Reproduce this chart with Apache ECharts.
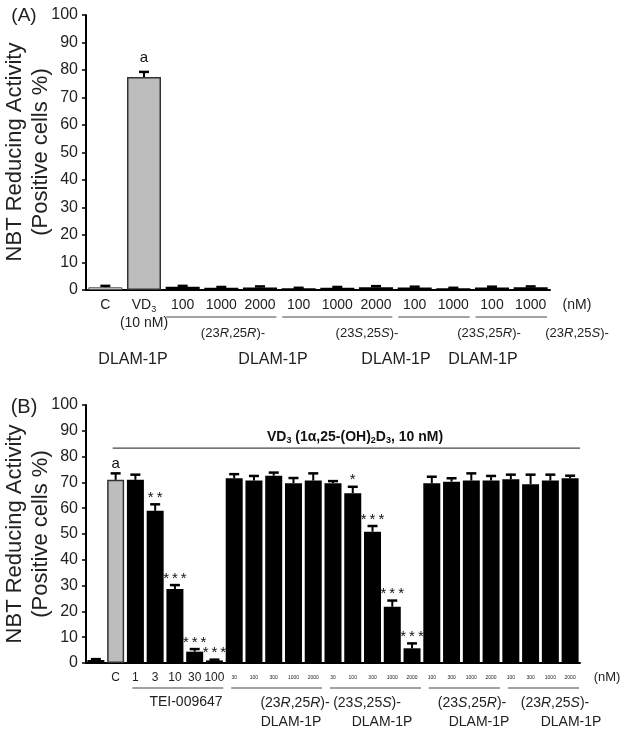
<!DOCTYPE html>
<html><head><meta charset="utf-8">
<script src="https://cdn.jsdelivr.net/npm/echarts@6/dist/echarts.min.js"></script>
<style>html,body{margin:0;padding:0;background:#fff}#c{width:628px;height:736px}</style>
</head><body><div id="c"></div>
<script>
// ---------- Panel A data ----------
const catsA = ['C', 'VD3', '100', '1000', '2000', '100', '1000', '2000', '100', '1000', '100', '1000'];
const valsA = [1.0, 77.5, 1.2, 0.8, 0.9, 0.6, 0.8, 1.0, 0.9, 0.6, 0.9, 1.0];
const errA  = [0.5, 1.8, 0.3, 0.3, 0.4, 0.2, 0.3, 0.4, 0.3, 0.2, 0.3, 0.3];
const sigA  = ['', 'a', '', '', '', '', '', '', '', '', '', ''];
// ---------- Panel B data ----------
const catsB = ['', 'C', '1', '3', '10', '30', '100',
  '30', '100', '300', '1000', '2000',
  '30', '100', '300', '1000', '2000',
  '100', '300', '1000', '2000',
  '100', '300', '1000', '2000'];
const valsB = [1.2, 71.0, 71.0, 59.0, 28.7, 4.4, 1.0,
  71.6, 70.7, 72.6, 69.7, 70.7,
  69.7, 65.8, 50.9, 21.8, 5.7,
  69.7, 70.3, 70.7, 70.7,
  71.2, 69.3, 70.7, 71.6];
const errB  = [0.3, 2.5, 2.0, 2.5, 1.5, 1.0, 0.3,
  1.6, 1.8, 1.2, 2.0, 2.8,
  0.8, 2.5, 2.2, 2.4, 1.9,
  2.5, 1.3, 2.8, 1.8,
  1.8, 3.7, 2.3, 1.0];
const sigB  = ['', 'a', '', '**', '***', '***', '***',
  '', '', '', '', '',
  '', '*', '***', '***', '***',
  '', '', '', '',
  '', '', '', ''];
const yTicks = [0, 100, 10];

const FONT = '"Liberation Sans", Arial, Helvetica, sans-serif';
const chart = echarts.init(document.getElementById('c'));

function barStyleA(i) {
  if (i === 0) return { color: '#d9d9d9', borderColor: '#555', borderWidth: 1 };
  if (i === 1) return { color: '#bdbdbd', borderColor: '#333', borderWidth: 1.5 };
  return { color: '#000' };
}
function barStyleB(i) {
  if (i === 0) return { color: '#fff', borderColor: '#000', borderWidth: 1.5 };
  if (i === 1) return { color: '#bdbdbd', borderColor: '#333', borderWidth: 1.5 };
  return { color: '#000' };
}

function errSeries(ax, vals, errs, sigs, sigOff) {
  return {
    type: 'custom', xAxisIndex: ax, yAxisIndex: ax, z: 5,
    data: vals.map((v, i) => [i, v, errs[i]]),
    renderItem: function (params, api) {
      const i = api.value(0), v = api.value(1), e = api.value(2);
      const b = api.coord([i, v]);
      const t = api.coord([i, v + e]);
      const cap = 5;
      const ch = [
        { type: 'line', shape: { x1: b[0], y1: b[1], x2: t[0], y2: t[1] }, style: { stroke: '#000', lineWidth: 2 } },
        { type: 'line', shape: { x1: t[0] - cap, y1: t[1], x2: t[0] + cap, y2: t[1] }, style: { stroke: '#000', lineWidth: 2.5 } }
      ];
      const s = sigs[params.dataIndex];
      if (s) {
        const isA = s === 'a';
        ch.push({ type: 'text', style: {
          text: isA ? s : s.split('').join('\u2009'), x: t[0], y: t[1] - (isA ? sigOff : sigOff - 3),
          align: 'center', verticalAlign: 'bottom', textAlign: 'center', textVerticalAlign: 'bottom',
          font: (isA ? '15px ' : '15px ') + FONT, fill: '#111'
        } });
      }
      return { type: 'group', children: ch };
    }
  };
}

const yAxisCommon = {
  type: 'value', min: yTicks[0], max: yTicks[1], interval: yTicks[2],
  axisLine: { show: true, lineStyle: { color: '#000', width: 2 } },
  axisTick: { show: true, length: 4, lineStyle: { color: '#000', width: 1.5 } },
  axisLabel: { fontSize: 16, color: '#222', fontFamily: FONT, margin: 8 },
  splitLine: { show: false }
};

const option = {
  animation: false,
  backgroundColor: '#fff',
  textStyle: { fontFamily: FONT },
  grid: [
    { left: 86, right: 78, top: 15, bottom: 446 },
    { left: 86, right: 48, top: 405, bottom: 73 }
  ],
  xAxis: [
    { type: 'category', gridIndex: 0, data: catsA,
      axisLine: { lineStyle: { color: '#000', width: 2 } }, axisTick: { show: false },
      axisLabel: { interval: 0, margin: 6, color: '#222',
        formatter: (v, i) => i === 1 ? '{n|VD}{sub|3}\n{n|(10 nM)}' : '{n|' + v + '}',
        rich: { n: { fontSize: 14, lineHeight: 18, fontFamily: FONT, color: '#222' },
                sub: { fontSize: 9, lineHeight: 18, verticalAlign: 'bottom', fontFamily: FONT, color: '#222' } } } },
    { type: 'category', gridIndex: 1, data: catsB,
      axisLine: { lineStyle: { color: '#000', width: 2 } }, axisTick: { show: false },
      axisLabel: { interval: 0, margin: 8, color: '#222',
        formatter: (v, i) => i >= 7 ? '{s|' + v + '}' : '{n|' + v + '}',
        rich: { n: { fontSize: 12, lineHeight: 14, fontFamily: FONT, color: '#222' },
                s: { fontSize: 5, lineHeight: 14, fontFamily: FONT, color: '#222' } } } }
  ],
  yAxis: [
    Object.assign({ gridIndex: 0 }, yAxisCommon),
    Object.assign({ gridIndex: 1 }, yAxisCommon)
  ],
  series: [
    { type: 'bar', xAxisIndex: 0, yAxisIndex: 0, barWidth: '88%',
      data: valsA.map((v, i) => ({ value: v, itemStyle: barStyleA(i) })) },
    errSeries(0, valsA, errA, sigA, 7),
    { type: 'bar', xAxisIndex: 1, yAxisIndex: 1, barWidth: '86%',
      data: valsB.map((v, i) => ({ value: v, itemStyle: barStyleB(i) })) },
    errSeries(1, valsB, errB, sigB, 2)
  ]
};
chart.setOption(option);

// ---------- annotations ----------
const px = (ax, c) => chart.convertToPixel({ xAxisIndex: ax }, c);
const py = (ax, v) => chart.convertToPixel({ yAxisIndex: ax }, v);
const bandA = px(0, 1) - px(0, 0);
const bandB = px(1, 1) - px(1, 0);
const baseA = py(0, 0), baseB = py(1, 0);
const g = [];
function txt(x, y, text, size, opts) {
  g.push(Object.assign({ type: 'text', x: x, y: y, style: Object.assign({
    text: text, fontSize: size, fontFamily: FONT, fill: '#222',
    align: 'center', verticalAlign: 'middle', textAlign: 'center', textVerticalAlign: 'middle'
  }, (opts && opts.style) || {}) }, (opts && opts.el) || {}));
}
function hline(x1, x2, y, w) {
  g.push({ type: 'line', shape: { x1: x1, y1: y, x2: x2, y2: y }, style: { stroke: '#444', lineWidth: w || 1 } });
}
const italRich = (size) => ({ i: { fontStyle: 'italic', fontSize: size, fontFamily: FONT, fill: '#222' } });

// Panel A
txt(24, 16, '(A)', 19);
txt(15, 152, 'NBT Reducing Activity', 22, { el: { rotation: Math.PI / 2 } });
txt(41, 152, '(Positive cells %)', 22, { el: { rotation: Math.PI / 2 } });
[[2, 4], [5, 7], [8, 9], [10, 11]].forEach(([a, b]) => hline(px(0, a) - bandA / 2 + 3, px(0, b) + bandA / 2 - 3, baseA + 27));
txt(577, baseA + 15, '(nM)', 14);
const grpA = [['(23{i|R},25{i|R})-', 233], ['(23{i|S},25{i|S})-', 367], ['(23{i|S},25{i|R})-', 489], ['(23{i|R},25{i|S})-', 577]];
grpA.forEach(([t, x]) => txt(x, baseA + 43, t, 13, { style: { rich: italRich(13) } }));
[133, 273, 396, 483].forEach(x => txt(x, baseA + 70, 'DLAM-1P', 16));

// Panel B
txt(24, 407, '(B)', 20);
txt(15, 534, 'NBT Reducing Activity', 22, { el: { rotation: Math.PI / 2 } });
txt(41, 534, '(Positive cells %)', 22, { el: { rotation: Math.PI / 2 } });
const vdY = py(1, 83.3);
hline(px(1, 1) - 3, px(1, catsB.length - 1) + bandB / 2, vdY, 1.2);
txt(355, vdY - 11, '{b|VD}{s|3}{b| (1α,25-(OH)}{s|2}{b|D}{s|3}{b|, 10 nM)}', 14, { style: { rich: {
  b: { fontSize: 14, fontWeight: 'bold', fontFamily: FONT, lineHeight: 16, fill: '#111' },
  s: { fontSize: 9, fontWeight: 'bold', fontFamily: FONT, lineHeight: 16, verticalAlign: 'bottom', fill: '#111' } } } });
[[2, 6], [7, 11], [12, 16], [17, 20], [21, 24]].forEach(([a, b]) => hline(px(1, a) - 3, px(1, b) + bandB / 2 - 1, baseB + 25));
txt(607, baseB + 14, '(nM)', 13);
txt(186, baseB + 39, 'TEI-009647', 14);
const grpB = [['(23{i|R},25{i|R})-', 295, 291], ['(23{i|S},25{i|S})-', 367, 382], ['(23{i|S},25{i|R})-', 472, 479], ['(23{i|R},25{i|S})-', 555, 571]];
grpB.forEach(([t, x1, x2]) => {
  txt(x1, baseB + 40, t, 14, { style: { rich: italRich(14) } });
  txt(x2, baseB + 59, 'DLAM-1P', 14);
});

chart.setOption({ graphic: { elements: g } });
</script></body></html>
